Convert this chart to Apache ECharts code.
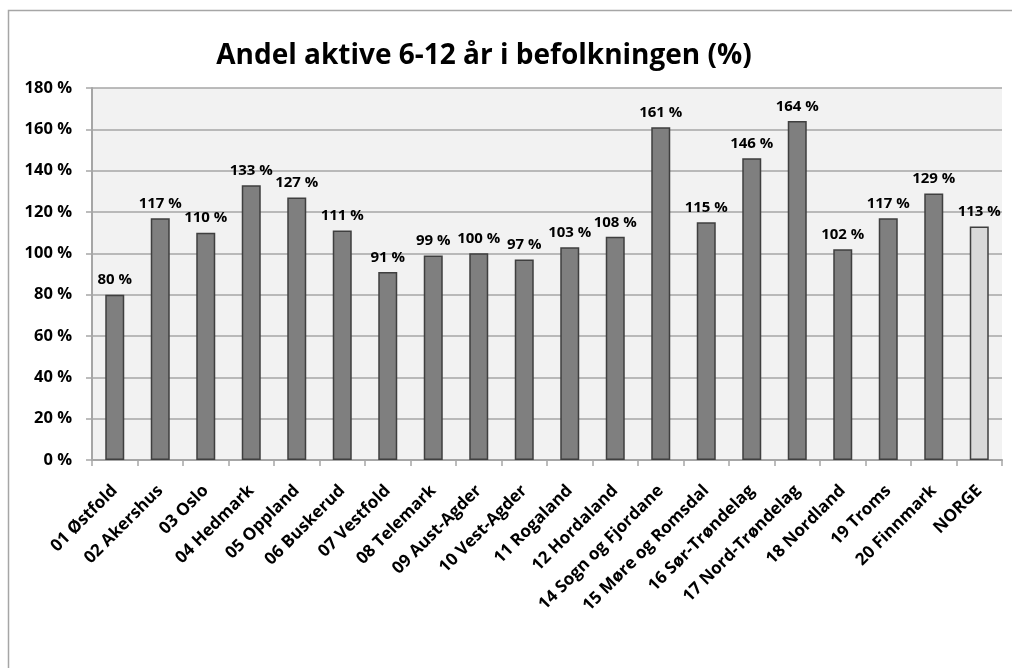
<!DOCTYPE html>
<html>
<head>
<meta charset="utf-8">
<script src="https://cdn.jsdelivr.net/npm/echarts@6/dist/echarts.min.js"></script>
<style>
html, body { margin: 0; padding: 0; background: #fff; }
#chart { width: 1012px; height: 668px; }
</style>
</head>
<body>
<div id="chart"></div>
<script>
var categories = ['01 Østfold', '02 Akershus', '03 Oslo', '04 Hedmark', '05 Oppland', '06 Buskerud',
    '07 Vestfold', '08 Telemark', '09 Aust-Agder', '10 Vest-Agder', '11 Rogaland', '12 Hordaland',
    '14 Sogn og Fjordane', '15 Møre og Romsdal', '16 Sør-Trøndelag', '17 Nord-Trøndelag',
    '18 Nordland', '19 Troms', '20 Finnmark', 'NORGE'];
var values = [80, 117, 110, 133, 127, 111, 91, 99, 100, 97, 103, 108, 161, 115, 146, 164, 102, 117, 129, 113];
var highlight = 'NORGE';

var font = 'Open Sans';
var myChart = echarts.init(document.getElementById('chart'));

var option = {
    backgroundColor: '#ffffff',
    animation: false,
    textStyle: { fontFamily: font },
    graphic: [{
        type: 'rect',
        z: -1,
        shape: { x: 8.5, y: 10.5, width: 1020, height: 700 },
        style: { fill: 'none', stroke: '#a6a6a6', lineWidth: 1.5 }
    }],
    title: {
        text: 'Andel aktive 6-12 år i befolkningen (%)',
        left: 479,
        textAlign: 'center',
        top: 37,
        textStyle: { fontSize: 28, fontWeight: 'bold', color: '#000', fontFamily: font }
    },
    grid: {
        left: 92,
        right: 10,
        top: 88,
        bottom: 208,
        show: true,
        backgroundColor: '#f2f2f2',
        borderWidth: 0
    },
    xAxis: {
        type: 'category',
        data: categories,
        axisLine: { lineStyle: { color: '#a6a6a6', width: 2 } },
        axisTick: { show: true, length: 6, alignWithLabel: false, lineStyle: { color: '#a6a6a6', width: 1.5 } },
        axisLabel: {
            interval: 0,
            rotate: 45,
            margin: 28,
            fontSize: 17,
            fontWeight: 'bold',
            color: '#000'
        }
    },
    yAxis: {
        type: 'value',
        min: 0,
        max: 180,
        interval: 20,
        axisLine: { show: true, lineStyle: { color: '#a6a6a6', width: 2 } },
        axisTick: { show: true, length: 6, lineStyle: { color: '#a6a6a6', width: 1.5 } },
        splitLine: { lineStyle: { color: '#a6a6a6', width: 1.5 } },
        axisLabel: {
            formatter: '{value} %',
            fontSize: 16.5,
            fontWeight: 'bold',
            color: '#000',
            margin: 20
        }
    },
    series: [{
        type: 'bar',
        barWidth: 19,
        data: values.map(function (v, i) {
            return {
                value: v,
                itemStyle: { color: categories[i] === highlight ? '#d9d9d9' : '#7f7f7f' }
            };
        }),
        itemStyle: { borderColor: '#3f3f3f', borderWidth: 1.5 },
        label: {
            show: true,
            position: 'top',
            distance: 7,
            formatter: '{c} %',
            fontSize: 15,
            fontWeight: 'bold',
            color: '#000'
        }
    }]
};

myChart.setOption(option);
</script>
</body>
</html>
